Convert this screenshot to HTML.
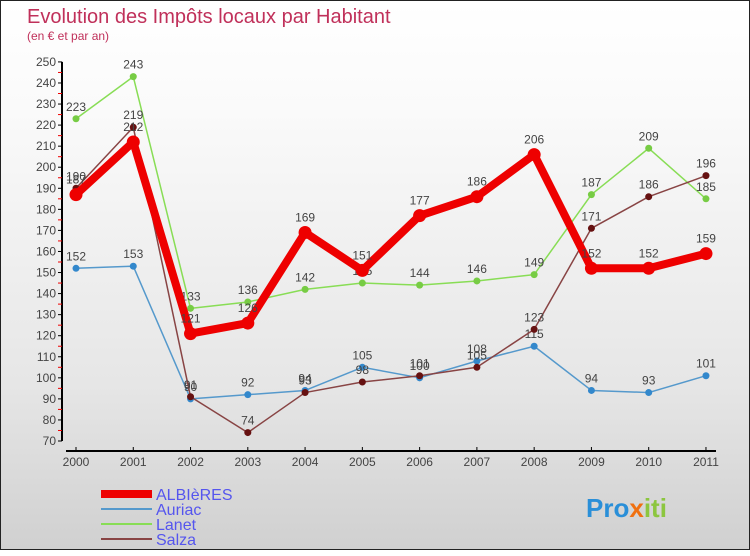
<!DOCTYPE html>
<html><head><meta charset="utf-8"><style>
body{margin:0;width:750px;height:550px;overflow:hidden}
#c{position:absolute;left:0;top:0;width:748px;height:548px;border:1px solid #222;background:linear-gradient(#fff,#fafafa 20%,#e6e6e6 70%,#d0d0d0)}
svg text{font-family:"Liberation Sans","DejaVu Sans",sans-serif}
</style></head><body>
<div id="c">
<svg id="s" width="750" height="550">
<text x="26" y="22" font-size="20" fill="#c0305a">Evolution des Impôts locaux par Habitant</text>
<text x="26" y="39" font-size="12" fill="#c0305a">(en € et par an)</text>
<g id="axes"></g><g id="series"></g><g id="legend"></g>
<text x="585" y="516" font-size="26" font-weight="bold" fill="#2a8fd8">Pro<tspan fill="#f07010">x</tspan><tspan fill="#8cc63f">iti</tspan></text>
</svg></div>
<script>
const years=[2000,2001,2002,2003,2004,2005,2006,2007,2008,2009,2010,2011];
const albieres=[187,212,121,126,169,151,177,186,206,152,152,159];
const auriac=[152,153,90,92,94,105,100,108,115,94,93,101];
const lanet=[223,243,133,136,142,145,144,146,149,187,209,185];
const salza=[190,219,91,74,93,98,101,105,123,171,186,196];
const yTicks=[70,80,90,100,110,120,130,140,150,160,170,180,190,200,210,220,230,240,250];
const NS="http://www.w3.org/2000/svg";
const X=i=>75+i*57.27, Y=v=>440-(v-70)*2.106;
function mk(t,a,p){const e=document.createElementNS(NS,t);for(const k in a)e.setAttribute(k,a[k]);p.appendChild(e);return e;}
const ax=document.getElementById('axes');
let yl=mk('line',{x1:61,y1:Y(250),x2:61,y2:Y(70),stroke:'#000','stroke-width':2},ax);


yTicks.forEach(v=>{
  mk('line',{x1:57,y1:Y(v),x2:61,y2:Y(v),stroke:'#000'},ax);
  if(v<250) mk('line',{x1:57,y1:Y(v+5),x2:61,y2:Y(v+5),stroke:'#e00'},ax);
  let t=mk('text',{x:55,y:Y(v)+4,'font-size':12,'text-anchor':'end',fill:'#444'},ax);t.textContent=v;
  
  
});
let xl=mk('line',{x1:65,y1:450,x2:715,y2:450,stroke:'#000','stroke-width':2},ax);


years.forEach((y,i)=>{
  mk('line',{x1:X(i),y1:446,x2:X(i),y2:450,stroke:'#000'},ax);
  let t=mk('text',{x:X(i),y:465,'font-size':12,'text-anchor':'middle',fill:'#444'},ax);t.textContent=y;
  
  
});
const series=[
 {n:'Lanet',d:lanet,c:'#88dd55',lw:1.5,r:3.5,fc:'#77cc44'},
 {n:'Auriac',d:auriac,c:'#5599cc',lw:1.5,r:3.5,fc:'#3388cc'},
 {n:'Salza',d:salza,c:'#884444',lw:1.5,r:3.5,fc:'#661111'},
 {n:'ALBIèRES',d:albieres,c:'#ee0000',lw:8,r:6.5,fc:'#ee0000'}];
const sg=document.getElementById('series');
series.forEach(s=>{
  const g=mk('g',{},sg);
  
  
  mk('polyline',{points:s.d.map((v,i)=>X(i)+','+Y(v)).join(' '),fill:'none',stroke:s.c,'stroke-width':s.lw,'stroke-linejoin':'round'},g);
  s.d.forEach((v,i)=>{
    const p=mk('circle',{cx:X(i),cy:Y(v),r:s.r,fill:s.fc},g);
    
    
    const t=mk('text',{x:X(i),y:Y(v)-8-(s.lw>5?3:0),'font-size':12,'text-anchor':'middle',fill:'#444'},g);t.textContent=v;
    
    
  });
});
const lg=document.getElementById('legend');
[['ALBIèRES','#ee0000',8],['Auriac','#5599cc',2],['Lanet','#88dd55',2],['Salza','#884444',2]].forEach((e,i)=>{
  const y=493+i*15;
  const g=mk('g',{},lg);
  
  
  mk('line',{x1:100,y1:y,x2:151,y2:y,stroke:e[1],'stroke-width':e[2]},g);
  const t=mk('text',{x:155,y:y+6,'font-size':16,fill:'#5555ee'},g);t.textContent=e[0];
});
</script></body></html>
